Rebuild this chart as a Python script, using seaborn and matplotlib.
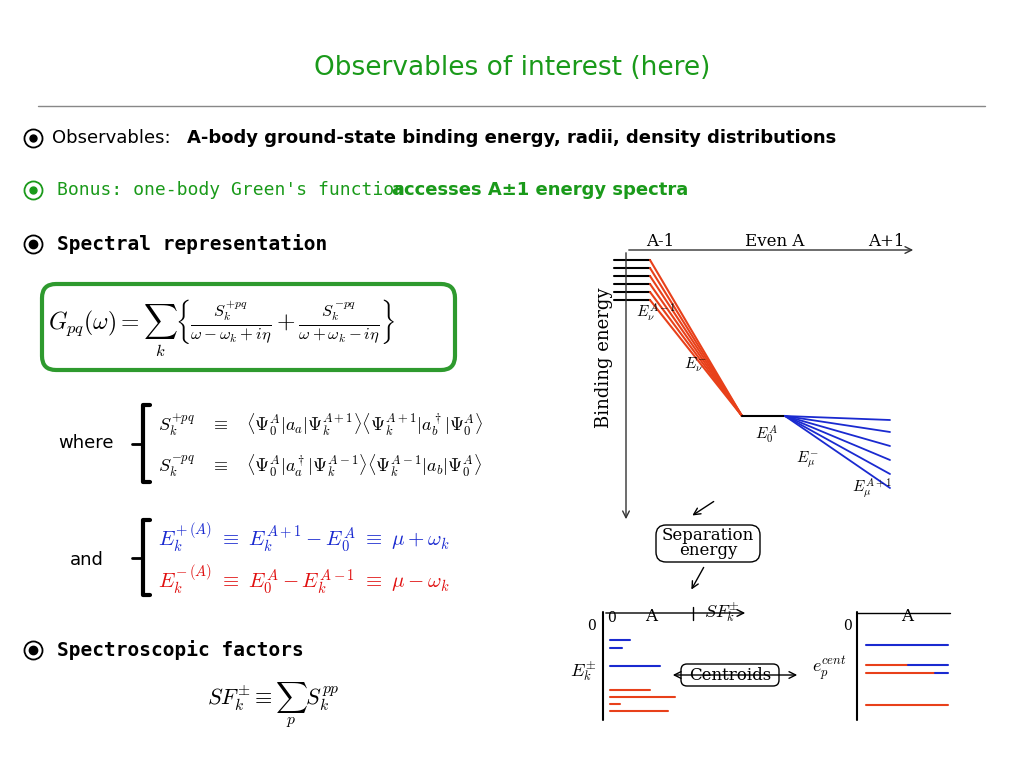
import matplotlib
matplotlib.use('Agg')
import matplotlib.pyplot as plt
import seaborn as sns
from matplotlib.patches import FancyBboxPatch

sns.set_theme(style='white')
plt.rcParams['font.family'] = ['DejaVu Sans']
plt.rcParams['mathtext.fontset'] = 'cm'
plt.rcParams['text.color'] = 'black'

GREEN = '#1a9a1a'
RED = '#e8401a'
BLUE = '#1a2ad0'

# level diagram data (pixel positions on the slide)
left_levels = [260, 268, 276, 284, 292, 300]
ground_level = 416
right_levels = [420, 432, 446, 460, 474, 488]
sf_blue_left = [640, 648, 666]
sf_red_left = [690, 697, 704, 711]
cent_blue = [645, 665, 673]
cent_red = [665, 673, 705]

fig = plt.figure(figsize=(10.24, 7.68), dpi=100)
ax = fig.add_axes([0, 0, 1, 1])
ax.set_xlim(0, 1024)
ax.set_ylim(768, 0)
ax.axis('off')

ax.text(512, 68, 'Observables of interest (here)', color=GREEN, fontsize=19,
        ha='center', va='center')
ax.plot([38, 985], [106, 106], color='#888888', lw=1)


def bullet(y, color='black', heavy=False):
    # the ⦿ glyph is in none of the installed fonts, so draw it as a shape
    ax.plot(33, y, marker='o', ms=13, mfc='none', mec=color, mew=1.3)
    ax.plot(33, y, marker='o', ms=6 if heavy else 5, color=color)


mono = 'DejaVu Sans Mono'
bullet(138)
bullet(190, GREEN)
ax.text(52, 138, 'Observables: ', fontsize=13, va='center')
ax.text(187, 138, 'A-body ground-state binding energy, radii, density distributions',
        fontsize=13, va='center', fontweight='bold')
ax.text(57, 190, "Bonus: one-body Green's function", fontsize=13, va='center',
        color=GREEN, family=mono)
ax.text(392, 190, 'accesses A±1 energy spectra', fontsize=13, va='center',
        color=GREEN, fontweight='bold')
bullet(244, heavy=True)
ax.text(57, 244, 'Spectral representation', fontsize=14, va='center',
        fontweight='bold', family=mono)

box = FancyBboxPatch((42, 284), 413, 86, boxstyle='round,pad=0,rounding_size=14',
                     fc='none', ec='#2e9a2e', lw=3)
ax.add_patch(box)
ax.text(48, 328, r'$G_{pq}(\omega)=\sum_k\left\{\frac{S_k^{+pq}}{\omega-\omega_k+i\eta}'
        r'+\frac{S_k^{-pq}}{\omega+\omega_k-i\eta}\right\}$', fontsize=17, va='center')

ax.text(58, 443, 'where', fontsize=13, va='center')
ax.text(70, 560, 'and', fontsize=13, va='center')
for y0, y1 in [(405, 482), (520, 595)]:
    ax.plot([150, 143, 143, 150], [y0, y0, y1, y1], color='black', lw=3)
    ax.plot([132, 143], [(y0 + y1) / 2] * 2, color='black', lw=2)
ax.text(158, 425, r'$S_k^{+pq}\quad\equiv\quad\langle\Psi_0^A|a_a|\Psi_k^{A+1}\rangle'
        r'\langle\Psi_k^{A+1}|a_b^\dagger|\Psi_0^A\rangle$', fontsize=13, va='center')
ax.text(158, 466, r'$S_k^{-pq}\quad\equiv\quad\langle\Psi_0^A|a_a^\dagger|\Psi_k^{A-1}\rangle'
        r'\langle\Psi_k^{A-1}|a_b|\Psi_0^A\rangle$', fontsize=13, va='center')
ax.text(158, 538, r'$E_k^{+\,(A)}\ \equiv\ E_k^{A+1}-E_0^A\ \equiv\ \mu+\omega_k$',
        fontsize=15, va='center', color=BLUE)
ax.text(158, 580, r'$E_k^{-\,(A)}\ \equiv\ E_0^A-E_k^{A-1}\ \equiv\ \mu-\omega_k$',
        fontsize=15, va='center', color='#e01010')

bullet(650, heavy=True)
ax.text(57, 650, 'Spectroscopic factors', fontsize=14, va='center',
        fontweight='bold', family=mono)
ax.text(207, 705, r'$SF_k^{\pm}\equiv\sum_p S_k^{pp}$', fontsize=16, va='center')

# right level diagram
ax.annotate('', xy=(916, 250), xytext=(626, 250),
            arrowprops=dict(arrowstyle='->', color='#333333', lw=1))
ax.annotate('', xy=(626, 522), xytext=(626, 250),
            arrowprops=dict(arrowstyle='->', color='#333333', lw=1))
for x, s in [(660, 'A-1'), (775, 'Even A'), (886, 'A+1')]:
    ax.text(x, 241, s, fontsize=12, ha='center', va='center', family='DejaVu Serif')
ax.text(604, 358, 'Binding energy', fontsize=13, rotation=90, ha='center',
        va='center', family='DejaVu Serif')
for y in left_levels:
    ax.plot([614, 650], [y, y], color='black', lw=1.5)
    ax.plot([650, 742], [y, ground_level], color=RED, lw=1.5)
ax.plot([742, 785], [ground_level, ground_level], color='black', lw=1.5)
for y in right_levels:
    ax.plot([785, 890], [ground_level, y], color=BLUE, lw=1.3)
ax.text(636, 318, r'$E_\nu^{A-1}$', fontsize=11)
ax.text(684, 368, r'$E_\nu^{-}$', fontsize=11)
ax.text(755, 440, r'$E_0^{A}$', fontsize=11)
ax.text(796, 462, r'$E_\mu^{-}$', fontsize=11)
ax.text(852, 492, r'$E_\mu^{A+1}$', fontsize=11)

ax.annotate('', xy=(690, 517), xytext=(716, 500),
            arrowprops=dict(arrowstyle='->', color='black', lw=1))
ax.add_patch(FancyBboxPatch((656, 525), 104, 37, boxstyle='round,pad=0,rounding_size=10',
                            fc='white', ec='black', lw=1))
ax.text(708, 543, 'Separation\nenergy', fontsize=12, ha='center', va='center',
        family='DejaVu Serif', linespacing=0.8)
ax.annotate('', xy=(690, 592), xytext=(705, 565),
            arrowprops=dict(arrowstyle='->', color='black', lw=1))

# bottom left: spectroscopic factors
ax.plot([603, 603], [612, 720], color='black', lw=1.5)
ax.annotate('', xy=(748, 613), xytext=(603, 613),
            arrowprops=dict(arrowstyle='->', color='black', lw=1))
ax.plot([693, 693], [607, 620], color='black', lw=1)
ax.text(592, 630, '0', fontsize=10, ha='center', family='DejaVu Serif')
ax.text(611, 622, '0', fontsize=10, ha='center', family='DejaVu Serif')
ax.text(651, 621, 'A', fontsize=12, ha='center', family='DejaVu Serif')
ax.text(704, 617, r'$SF_k^{\pm}$', fontsize=13)
ax.text(570, 676, r'$E_k^{\pm}$', fontsize=13)
for y, w in zip(sf_blue_left, [20, 12, 50]):
    ax.plot([610, 610 + w], [y, y], color=BLUE, lw=1.5)
for y, w in zip(sf_red_left, [40, 65, 10, 58]):
    ax.plot([610, 610 + w], [y, y], color=RED, lw=1.5)

ax.annotate('', xy=(670, 675), xytext=(800, 675),
            arrowprops=dict(arrowstyle='<->', color='black', lw=1))
ax.add_patch(FancyBboxPatch((681, 664), 98, 22, boxstyle='round,pad=0,rounding_size=6',
                            fc='white', ec='black', lw=1))
ax.text(730, 675, 'Centroids', fontsize=12, ha='center', va='center', family='DejaVu Serif')
ax.text(812, 672, r'$e_p^{cent}$', fontsize=13)

ax.plot([857, 857], [612, 720], color='black', lw=1.5)
ax.plot([857, 950], [613, 613], color='black', lw=1)
ax.text(848, 630, '0', fontsize=10, ha='center', family='DejaVu Serif')
ax.text(907, 621, 'A', fontsize=12, ha='center', family='DejaVu Serif')
ax.plot([866, 948], [cent_blue[0]] * 2, color=BLUE, lw=1.5)
ax.plot([866, 908], [cent_red[0]] * 2, color=RED, lw=1.5)
ax.plot([908, 948], [cent_blue[1]] * 2, color=BLUE, lw=1.5)
ax.plot([866, 935], [cent_red[1]] * 2, color=RED, lw=1.5)
ax.plot([935, 948], [cent_blue[2]] * 2, color=BLUE, lw=1.5)
ax.plot([866, 948], [cent_red[2]] * 2, color=RED, lw=1.5)

fig.savefig('out.png', dpi=100)
